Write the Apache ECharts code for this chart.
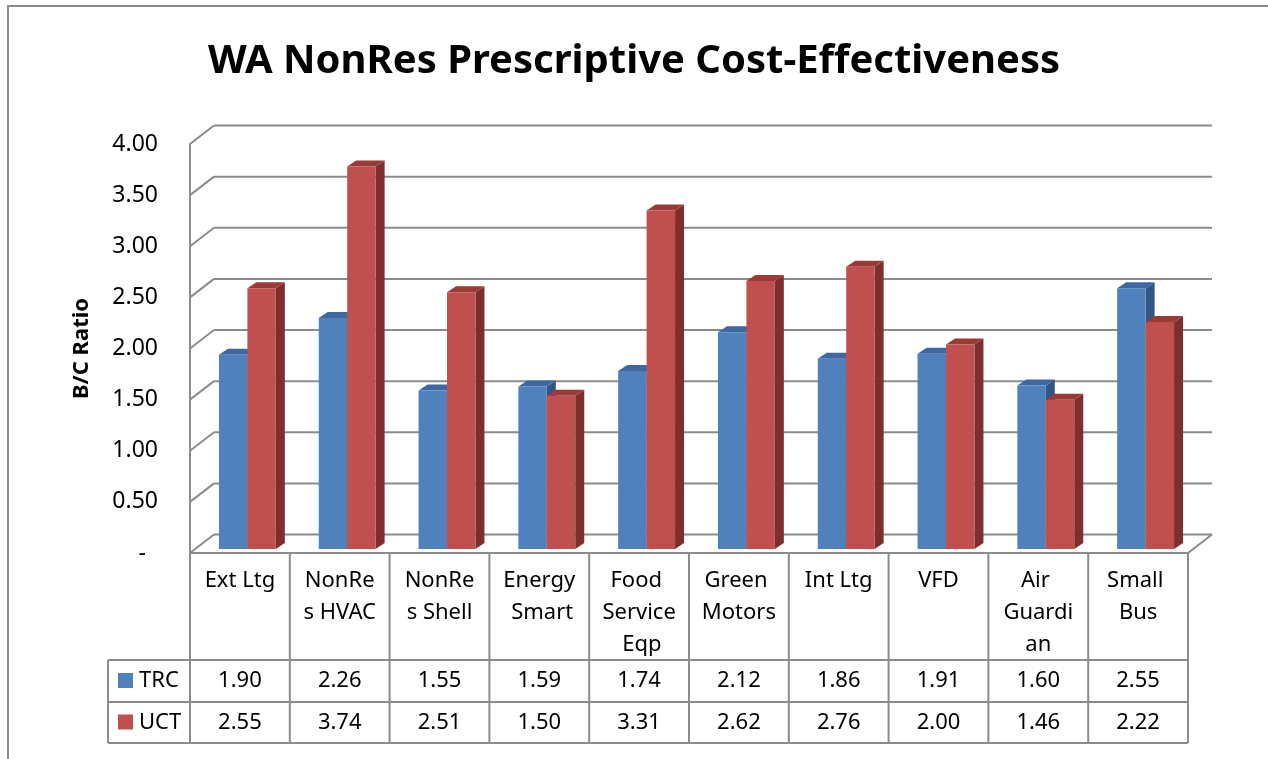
<!DOCTYPE html>
<html><head><meta charset="utf-8">
<script src="https://cdn.jsdelivr.net/npm/echarts@6/dist/echarts.min.js"></script>
<style>html,body{margin:0;padding:0;background:#fff}#c{width:1268px;height:759px}</style>
</head><body><div id="c"></div>
<script>
const chartTitle = 'WA NonRes Prescriptive Cost-Effectiveness';
const yAxisName = 'B/C Ratio';
const categories = ['Ext Ltg', 'NonRes HVAC', 'NonRes Shell', 'Energy Smart', 'Food Service Eqp', 'Green Motors', 'Int Ltg', 'VFD', 'Air Guardian', 'Small Bus'];
const seriesNames = ['TRC', 'UCT'];
const trcValues = [1.90, 2.26, 1.55, 1.59, 1.74, 2.12, 1.86, 1.91, 1.60, 2.55];
const uctValues = [2.55, 3.74, 2.51, 1.50, 3.31, 2.62, 2.76, 2.00, 1.46, 2.22];
const yTicks = [0, 0.5, 1, 1.5, 2, 2.5, 3, 3.5, 4];

const FONT = '"Noto Sans", sans-serif';
const GRID_COLOR = '#8c8c8c';
const palette = [
  { front: '#4f81bd', side: '#2f5685', top: '#3d68a0' },
  { front: '#c0504d', side: '#7e2f2d', top: '#9b3b38' }
];
const WALL_DX = 24, WALL_DY = -18.5;
const BAR_DX = 7.5, BAR_DY = -4;
const SIDE_DX = 9, SIDE_DY = -6;
const BAR_FRAC = 0.285;

function wallRender(params, api) {
  const cs = params.coordSys;
  const x0 = cs.x, x1 = cs.x + cs.width;
  const children = [];
  yTicks.forEach(t => {
    const y = api.coord([0, t])[1];
    children.push({ type: 'line', shape: { x1: x0, y1: y, x2: x0 + WALL_DX, y2: y + WALL_DY },
      style: { stroke: GRID_COLOR, lineWidth: 2 } });
    children.push({ type: 'line', shape: { x1: x0 + WALL_DX, y1: y + WALL_DY, x2: x1 + WALL_DX, y2: y + WALL_DY },
      style: { stroke: GRID_COLOR, lineWidth: 2 } });
  });
  const yb = api.coord([0, 0])[1];
  children.push({ type: 'line', shape: { x1: x1, y1: yb, x2: x1 + WALL_DX, y2: yb + WALL_DY },
    style: { stroke: GRID_COLOR, lineWidth: 2 } });
  return { type: 'group', children };
}

function barRender(sIdx) {
  return function (params, api) {
    const i = api.value(0), v = api.value(1);
    const base = api.coord([i, 0]);
    const topPt = api.coord([i, v]);
    const band = api.size([1, 0])[0];
    const w = band * BAR_FRAC;
    const cx = base[0] + BAR_DX;
    const xa = cx - w + sIdx * w, xb = xa + w;
    const yb = base[1] + BAR_DY, yt = topPt[1] + BAR_DY;
    const c = palette[sIdx];
    return { type: 'group', children: [
      { type: 'polygon', shape: { points: [[xb, yb], [xb + SIDE_DX, yb + SIDE_DY], [xb + SIDE_DX, yt + SIDE_DY], [xb, yt]] }, style: { fill: c.side } },
      { type: 'polygon', shape: { points: [[xa, yt], [xb, yt], [xb + SIDE_DX, yt + SIDE_DY], [xa + SIDE_DX, yt + SIDE_DY]] }, style: { fill: c.top } },
      { type: 'rect', shape: { x: xa, y: yt, width: w, height: yb - yt }, style: { fill: c.front } }
    ] };
  };
}

function tableRender(params, api) {
  const i = api.value(0);
  const cs = params.coordSys;
  const band = api.size([1, 0])[0];
  const cx = api.coord([i, 0])[0];
  const yF = cs.y + cs.height;
  const xL = cx - band / 2, xR = cx + band / 2;
  const r1 = yF + 107, r2 = yF + 149, r3 = yF + 190;
  const ls = { stroke: GRID_COLOR, lineWidth: 2 };
  const txt = (text, x, y, extra) => Object.assign({ type: 'text', style: Object.assign({
    text, x, y, align: 'center', verticalAlign: 'middle', fontFamily: FONT, fontSize: 22, fill: '#000' }, extra || {}) });
  const children = [
    { type: 'line', shape: { x1: xR, y1: yF, x2: xR, y2: r3 }, style: ls },
    txt(categories[i], cx, yF + 12, { verticalAlign: 'top', width: 77, overflow: 'break', lineHeight: 32 }),
    txt(api.value(1).toFixed(2), cx, (r1 + r2) / 2),
    txt(api.value(2).toFixed(2), cx, (r2 + r3) / 2)
  ];
  if (i === 0) {
    const legX = xL - 82;
    children.push({ type: 'line', shape: { x1: xL, y1: yF, x2: xL, y2: r3 }, style: ls });
    children.push({ type: 'line', shape: { x1: legX, y1: r1, x2: legX, y2: r3 }, style: ls });
    [r1, r2, r3].forEach(y => children.push({ type: 'line', shape: { x1: legX, y1: y, x2: cs.x + cs.width, y2: y }, style: ls }));
    seriesNames.forEach((nm, k) => {
      const yc = k === 0 ? (r1 + r2) / 2 : (r2 + r3) / 2;
      children.push({ type: 'rect', shape: { x: legX + 10, y: yc - 8, width: 15, height: 15 }, style: { fill: palette[k].front } });
      children.push(txt(nm, legX + 31, yc, { align: 'left' }));
    });
  }
  return { type: 'group', children };
}

const chart = echarts.init(document.getElementById('c'), null, { renderer: 'canvas' });
chart.setOption({
  animation: false,
  backgroundColor: '#fff',
  title: { text: chartTitle, left: 'center', top: 37,
    textStyle: { fontFamily: FONT, fontSize: 40, fontWeight: 'bold', color: '#000' } },
  grid: { left: 190, right: 80, top: 144, bottom: 206, containLabel: false },
  xAxis: { type: 'category', data: categories, boundaryGap: true,
    axisLine: { show: true, lineStyle: { color: GRID_COLOR, width: 2 } },
    axisTick: { show: false }, axisLabel: { show: false }, splitLine: { show: false } },
  yAxis: { type: 'value', min: 0, max: 4, interval: 0.5,
    name: yAxisName, nameLocation: 'middle', nameGap: 97, nameRotate: 90,
    nameTextStyle: { fontFamily: FONT, fontSize: 22, fontWeight: 'bold', color: '#000' },
    axisLine: { show: true, lineStyle: { color: GRID_COLOR, width: 2 } },
    axisTick: { show: false }, splitLine: { show: false },
    axisLabel: { margin: 32, fontFamily: FONT, fontSize: 23, color: '#000',
      formatter: v => v === 0 ? '{d|-}' : v.toFixed(2),
      rich: { d: { fontFamily: FONT, fontSize: 23, color: '#000', padding: [0, 12, 0, 0] } } } },
  graphic: [{ type: 'polyline', shape: { points: [[8, 759], [8, 6], [1268, 6]] },
    style: { stroke: GRID_COLOR, lineWidth: 2, fill: null }, silent: true }],
  series: [
    { type: 'custom', name: 'wall', renderItem: wallRender, data: [[0, 0]], encode: { x: 0, y: 1 }, z: 1, silent: true },
    { type: 'custom', name: seriesNames[0], renderItem: barRender(0), data: trcValues.map((v, i) => [i, v]), encode: { x: 0, y: 1 }, z: 2 },
    { type: 'custom', name: seriesNames[1], renderItem: barRender(1), data: uctValues.map((v, i) => [i, v]), encode: { x: 0, y: 1 }, z: 3 },
    { type: 'custom', name: 'table', renderItem: tableRender, data: categories.map((c, i) => [i, trcValues[i], uctValues[i]]), encode: { x: 0, y: 1 }, z: 4, silent: true }
  ]
});
</script></body></html>
